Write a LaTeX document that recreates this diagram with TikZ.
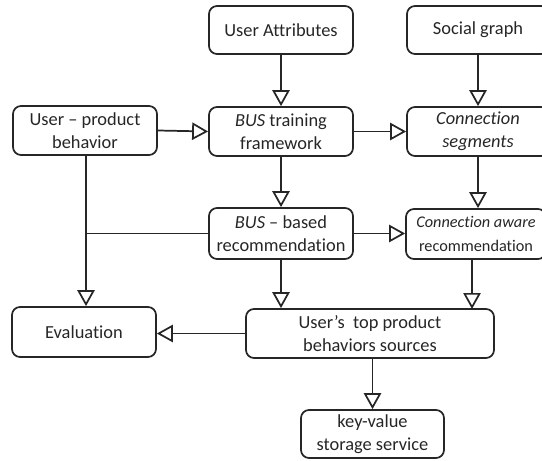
\documentclass[tikz,border=0pt]{standalone}
\usepackage{fontspec}
\setmainfont{Carlito}[Ligatures=NoCommon, RawFeature={-liga}]
\usetikzlibrary{arrows.meta}
\definecolor{ink}{HTML}{262626}
\begin{document}
\begin{tikzpicture}[x=0.75pt,y=-0.75pt,
  box/.style n args={2}{draw=ink, line width=1.3pt, rounded corners=6pt,
    minimum width=#1*0.75pt, minimum height=#2*0.75pt, inner sep=0pt,
    align=center, text=ink, font=\fontsize{13.8pt}{17.5pt}\selectfont},
  arr/.style={draw=ink, line width=1.3pt,
    -{Triangle[open, length=12pt, width=13pt, line width=1.3pt]}},
  ln/.style={draw=ink, line width=1.3pt}]
\useasboundingbox (0,0) rectangle (542,460);
\node[box={144}{48}] (ua) at (281,30) {User Attributes};
\node[box={142}{48}] (sg) at (478,30) {Social graph};
\node[box={144}{49}] (upb) at (85,130.5) {User -- product\\behavior};
\node[box={144}{49}] (bt) at (281,131.5) {\textit{BUS} training\\framework};
\node[box={142}{49}] (cs) at (478,131.5) {\textit{Connection}\\\textit{segments}};
\node[box={144}{51}] (br) at (281,233.5) {\textit{BUS} -- based\\recommendation};
\node[box={140}{50}, font=\fontsize{12.2pt}{17.5pt}\selectfont] (ca) at (476,234) {\textit{Connection aware}\\recommendation};
\node[box={144}{50}] (ev) at (84,332) {Evaluation};
\node[box={248}{49}] (ut) at (370,333.5) {User’s~~top product\\behaviors sources};
\node[box={143}{48}] (kv) at (372.5,434) {key-value\\storage service};
\coordinate (j) at (86,233.5);
\draw[arr] (ua.south) -- (bt.north);
\draw[arr] (sg.south) -- (cs.north);
\draw[arr] (upb.east) -- (bt.west);
\draw[arr] (bt.east) -- (cs.west |- bt.east);
\draw[arr] (bt.south) -- (br.north);
\draw[arr] (cs.south) -- (cs.south |- ca.north);
\draw[arr] (upb.south -| j) -- (ev.north -| j);
\draw[ln] (j) -- (br.west);
\draw[arr] (br.east) -- (ca.west |- br.east);
\draw[arr] (br.south) -- (br.south |- ut.north);
\draw[arr] (472,259) -- (472,309);
\draw[arr] (ut.west) -- (ev.east |- ut.west);
\draw[arr] (ut.south -| kv.north) -- (kv.north);
\end{tikzpicture}
\end{document}
